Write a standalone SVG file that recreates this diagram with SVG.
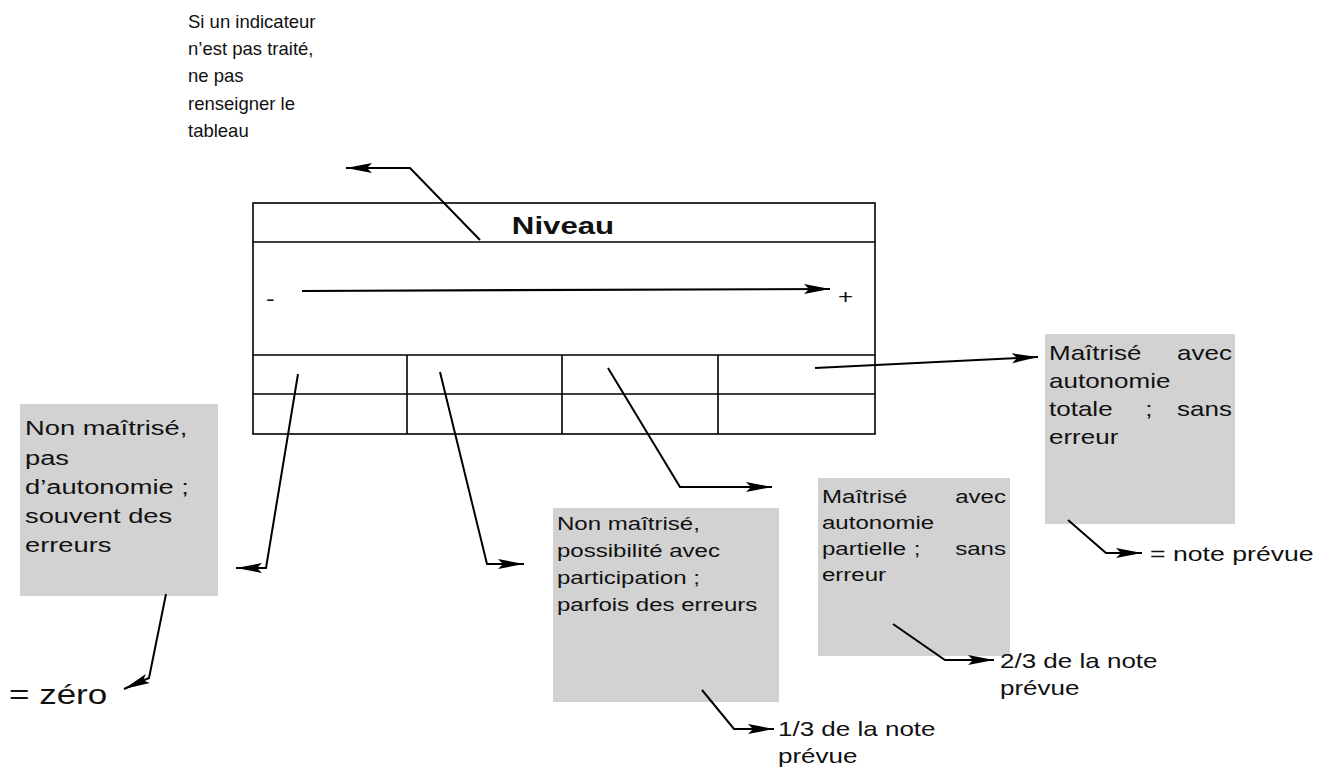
<svg xmlns="http://www.w3.org/2000/svg" width="1340" height="770" viewBox="0 0 1340 770">
<defs>
<marker id="ah" markerUnits="userSpaceOnUse" markerWidth="28" markerHeight="12" refX="26" refY="6" orient="auto">
<path d="M0,1 L26,6 L0,11 L5,6 Z" fill="#000"/>
</marker>
</defs>
<style>
text{font-family:"Liberation Sans",Arial,sans-serif;fill:#111}
.t18{font-size:18.5px}
.t20{font-size:20px}
.box{fill:#d2d2d2}
.ln{fill:none;stroke:#000;stroke-width:1.6}
.con{fill:none;stroke:#000;stroke-width:2;marker-end:url(#ah)}
</style>
<rect width="1340" height="770" fill="#fff"/>

<g id="note-top" transform="translate(188,0)">
<text font-size="18.5" x="0" y="28">Si un indicateur</text>
<text font-size="18.5" x="0" y="55">n’est pas traité,</text>
<text font-size="18.5" x="0" y="82">ne pas</text>
<text font-size="18.5" x="0" y="110">renseigner le</text>
<text font-size="18.5" x="0" y="137">tableau</text>
</g>

<g id="table">
<rect class="ln" x="253" y="203" width="622" height="231"/>
<line class="ln" x1="253" y1="242" x2="875" y2="242"/>
<line class="ln" x1="253" y1="355" x2="875" y2="355"/>
<line class="ln" x1="253" y1="394" x2="875" y2="394"/>
<line class="ln" x1="407" y1="355" x2="407" y2="434"/>
<line class="ln" x1="562" y1="355" x2="562" y2="434"/>
<line class="ln" x1="718" y1="355" x2="718" y2="434"/>
<g transform="translate(563,0) scale(1.3,1)">
<text x="0" y="234" text-anchor="middle" font-size="24" font-weight="bold">Niveau</text>
</g>
<g transform="translate(266,0) scale(1.3,1)"><text x="0" y="306" font-size="20">-</text></g>
<g transform="translate(838,0) scale(1.3,1)"><text x="0" y="304" font-size="20">+</text></g>
<line x1="302" y1="291" x2="830" y2="289" stroke="#000" stroke-width="2.2" marker-end="url(#ah)"/>
</g>

<g id="box1">
<rect class="box" x="20" y="404" width="198" height="192"/>
<g transform="translate(25,0) scale(1.3,1)">
<text font-size="21" x="0" y="435">Non maîtrisé,</text>
<text font-size="21" x="0" y="465">pas</text>
<text font-size="21" x="0" y="494">d’autonomie ;</text>
<text font-size="21" x="0" y="523">souvent des</text>
<text font-size="21" x="0" y="552">erreurs</text>
</g>
</g>

<g id="zero" transform="translate(9,0) scale(1.25,1)">
<text font-size="28" x="0" y="704">= zéro</text>
</g>

<g id="box2">
<rect class="box" x="553" y="508" width="226" height="194"/>
<g transform="translate(557,0) scale(1.3,1)">
<text class="t18" x="0" y="530">Non maîtrisé,</text>
<text class="t18" x="0" y="557">possibilité avec</text>
<text class="t18" x="0" y="584">participation ;</text>
<text class="t18" x="0" y="611">parfois des erreurs</text>
</g>
</g>

<g id="note1" transform="translate(778,0) scale(1.3,1)">
<text class="t20" x="0" y="736">1/3 de la note</text>
<text class="t20" x="0" y="763">prévue</text>
</g>

<g id="box3">
<rect class="box" x="818" y="478" width="192" height="178"/>
<g transform="translate(822,0) scale(1.3,1)">
<text class="t18" x="0" y="503">Maîtrisé</text>
<text class="t18" x="141.5" y="503" text-anchor="end">avec</text>
<text class="t18" x="0" y="529">autonomie</text>
<text class="t18" x="0" y="555">partielle</text>
<text class="t18" x="70.5" y="555">;</text>
<text class="t18" x="141.5" y="555" text-anchor="end">sans</text>
<text class="t18" x="0" y="581">erreur</text>
</g>
</g>

<g id="note2" transform="translate(1000,0) scale(1.3,1)">
<text class="t20" x="0" y="668">2/3 de la note</text>
<text class="t20" x="0" y="695">prévue</text>
</g>

<g id="box4">
<rect class="box" x="1045" y="334" width="190" height="190"/>
<g transform="translate(1049,0) scale(1.3,1)">
<text class="t20" x="0" y="360">Maîtrisé</text>
<text class="t20" x="140.8" y="360" text-anchor="end">avec</text>
<text class="t20" x="0" y="388">autonomie</text>
<text class="t20" x="0" y="416">totale</text>
<text class="t20" x="74" y="416">;</text>
<text class="t20" x="140.8" y="416" text-anchor="end">sans</text>
<text class="t20" x="0" y="444">erreur</text>
</g>
</g>

<g id="note3" transform="translate(1150,0) scale(1.3,1)">
<text font-size="20.5" x="0" y="561">= note prévue</text>
</g>

<g id="connectors">
<polyline class="con" points="480,240 410,168 346,168"/>
<polyline class="con" points="298,374 266,568 236,568"/>
<polyline class="con" points="166,594 149,678 124,689"/>
<polyline class="con" points="440,372 487,564 524,564"/>
<polyline class="con" points="702,690 734,729 774,729"/>
<polyline class="con" points="608,368 680,487 772,487"/>
<polyline class="con" points="893,624 945,660 994,660"/>
<polyline class="con" points="815,368 1038,357"/>
<polyline class="con" points="1068,520 1106,553 1142,553"/>
</g>
</svg>
